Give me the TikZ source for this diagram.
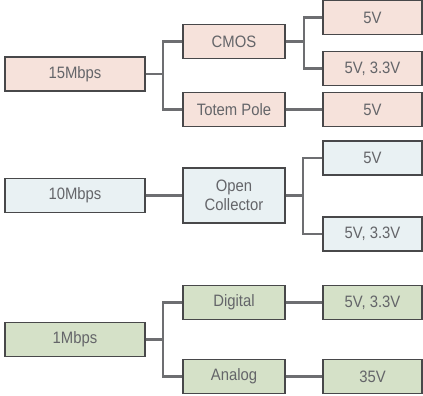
\documentclass[tikz,border=0pt]{standalone}
\usepackage{fontspec}
\setmainfont{Liberation Sans}[FakeStretch=0.9]
\definecolor{pinkf}{HTML}{F6E2DB}
\definecolor{bluef}{HTML}{E9F1F3}
\definecolor{greenf}{HTML}{D5E1C8}
\definecolor{bord}{HTML}{48484A}
\definecolor{wire}{HTML}{6D6E71}
\definecolor{txt}{HTML}{646569}
\begin{document}
\begin{tikzpicture}[x=1pt,y=-1pt,
  box/.style={draw=bord,line width=1.1pt,rectangle,inner sep=0pt,text=txt,
    font=\fontsize{16.5}{19}\selectfont,align=center,minimum height=34pt},
  lbox/.style={box,minimum width=140pt},
  mbox/.style={box,minimum width=102pt},
  rbox/.style={box,minimum width=99pt},
  pk/.style={fill=pinkf},
  bl/.style={fill=bluef},
  gr/.style={fill=greenf},
  wire/.style={draw=wire,line width=2.4pt,line join=miter}]
\useasboundingbox (0,0) rectangle (423,396);
% group 1
\node[lbox,pk] (a) at (75,74) {15Mbps};
\node[mbox,pk] (cmos) at (234,41.5) {CMOS};
\node[mbox,pk] (totem) at (234,109.5) {Totem Pole};
\node[rbox,pk] (r1) at (372.5,17.5) {5V};
\node[rbox,pk] (r2) at (372.5,68.5) {5V, 3.3V};
\node[rbox,pk] (r3) at (372.5,109.5) {5V};
% group 2
\node[lbox,bl] (b) at (75,195.5) {10Mbps};
\node[mbox,bl,minimum height=55pt] (oc) at (234,195.5) {Open\\Collector};
\node[rbox,bl] (r4) at (372.5,158) {5V};
\node[rbox,bl] (r5) at (372.5,234) {5V, 3.3V};
% group 3
\node[lbox,gr] (c) at (75,339.5) {1Mbps};
\node[mbox,gr] (dig) at (234,302.5) {Digital};
\node[mbox,gr] (ana) at (234,376.5) {Analog};
\node[rbox,gr] (r6) at (372.5,302.5) {5V, 3.3V};
\node[rbox,gr] (r7) at (372.5,376.5) {35V};
% connectors
\coordinate (ja) at (163,74);
\coordinate (jcmos) at (304,41.5);
\coordinate (joc) at (303,195.5);
\coordinate (jc) at (163,339.5);
\draw[wire] (a.east) -- (ja);
\draw[wire] (cmos.west) -| (ja) |- (totem.west);
\draw[wire] (cmos.east) -- (jcmos);
\draw[wire] (r1.west) -| (jcmos) |- (r2.west);
\draw[wire] (totem.east) -- (r3.west);
\draw[wire] (b.east) -- (oc.west);
\draw[wire] (oc.east) -- (joc);
\draw[wire] (r4.west) -| (joc) |- (r5.west);
\draw[wire] (c.east) -- (jc);
\draw[wire] (dig.west) -| (jc) |- (ana.west);
\draw[wire] (dig.east) -- (r6.west);
\draw[wire] (ana.east) -- (r7.west);
\end{tikzpicture}
\end{document}
